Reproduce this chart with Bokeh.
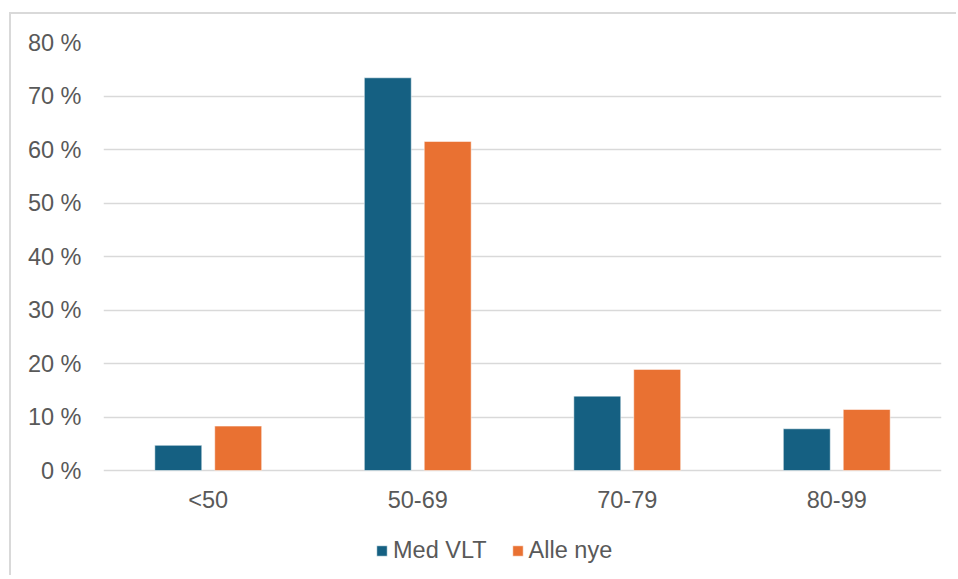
from bokeh.plotting import figure
from bokeh.models import ColumnDataSource, FactorRange, PrintfTickFormatter, Legend, LegendItem
from bokeh.transform import dodge
from bokeh.embed import file_html
from bokeh.resources import INLINE

categories = ["<50", "50-69", "70-79", "80-99"]
med_vlt = [4.7, 73.4, 13.9, 7.8]
alle_nye = [8.3, 61.5, 18.9, 11.4]
series_names = ["Med VLT", "Alle nye"]
y_ticks = [0, 10, 20, 30, 40, 50, 60, 70, 80]

BLUE = "#156082"
ORANGE = "#E97132"
TEXT = "#595959"
GRID = "#d9d9d9"
FONT = "Liberation Sans"
FS = "23.5px"

src = ColumnDataSource(data=dict(cat=categories, med=med_vlt, alle=alle_nye))

p = figure(x_range=FactorRange(factors=categories, range_padding=0),
           y_range=(-20, 80), width=947, height=563,
           output_backend="svg", toolbar_location=None,
           min_border_left=92, min_border_right=17, min_border_top=28, min_border_bottom=0)
p.styles = {"margin-left": "9px", "margin-top": "12px",
            "border-left": "2px solid #d9d9d9", "border-top": "2px solid #d9d9d9"}

r1 = p.vbar(x=dodge("cat", -0.143, range=p.x_range), top="med", width=0.224, source=src,
            fill_color=BLUE, line_color="white", line_alpha=0.5, line_width=1)
r2 = p.vbar(x=dodge("cat", 0.143, range=p.x_range), top="alle", width=0.224, source=src,
            fill_color=ORANGE, line_color="white", line_alpha=0.5, line_width=1)

p.outline_line_color = None
p.xgrid.grid_line_color = None
p.ygrid.grid_line_color = GRID
p.ygrid.grid_line_width = 1.5
p.ygrid.level = "underlay"

p.yaxis.ticker = y_ticks
p.ygrid.ticker = y_ticks
p.yaxis.formatter = PrintfTickFormatter(format="%d %%")
p.xaxis.fixed_location = 0
for ax in (p.xaxis[0], p.yaxis[0]):
    ax.axis_line_color = None
    ax.major_tick_line_color = None
    ax.minor_tick_line_color = None
    ax.major_tick_out = 0
    ax.major_label_text_font = FONT
    ax.major_label_text_font_size = FS
    ax.major_label_text_color = TEXT
p.yaxis.major_label_standoff = 22
p.xaxis.major_label_standoff = 16

legend = Legend(items=[LegendItem(label=series_names[0], renderers=[r1]),
                       LegendItem(label=series_names[1], renderers=[r2])],
                orientation="horizontal", location=(272, 13),
                glyph_width=13, glyph_height=13, label_standoff=5, spacing=24,
                padding=0, margin=0, border_line_color=None, background_fill_alpha=0,
                label_text_font=FONT, label_text_font_size=FS, label_text_color=TEXT)
p.add_layout(legend, "center")

open("out.html", "w").write(file_html(p, INLINE))
